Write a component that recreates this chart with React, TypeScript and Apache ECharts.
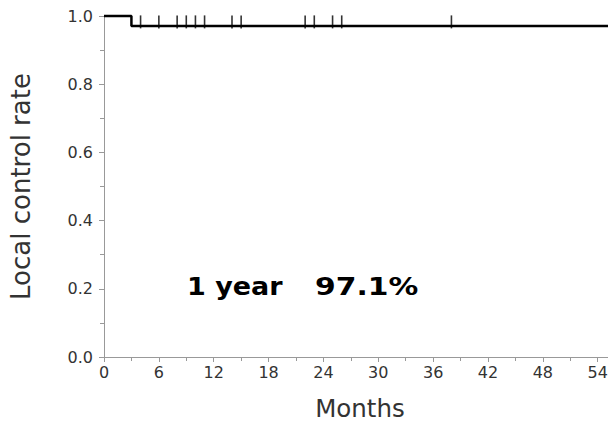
import React, { useEffect, useRef } from "react";
import * as echarts from "echarts";

const xTicks = [0, 6, 12, 18, 24, 30, 36, 42, 48, 54];
const yTicks = [0, 0.2, 0.4, 0.6, 0.8, 1.0];
const eventTimes = [3];
const survivalAfter = [0.971];
const followUpEnd = 56;
const censorTimes = [4, 6, 8, 9, 10, 11, 14, 15, 22, 23, 25, 26, 38];
const annotationLabel = "1 year";
const annotationValue = "97.1%";

function buildSteps() {
  const pts: [number, number][] = [[0, 1]];
  let s = 1;
  eventTimes.forEach((t, i) => {
    pts.push([t, s]);
    s = survivalAfter[i];
    pts.push([t, s]);
  });
  pts.push([followUpEnd, s]);
  return pts;
}

function survivalAt(t: number) {
  let s = 1;
  eventTimes.forEach((e, i) => {
    if (t >= e) s = survivalAfter[i];
  });
  return s;
}

export default function App() {
  const ref = useRef<HTMLDivElement>(null);
  useEffect(() => {
    if (!ref.current) return;
    const chart = echarts.init(ref.current, undefined, { renderer: "svg" });
    const font = "DejaVu Sans";
    chart.setOption({
      animation: false,
      backgroundColor: "#fff",
      grid: { left: 102, top: 16, right: 0, bottom: 70, containLabel: false },
      xAxis: {
        type: "value",
        min: 0,
        max: followUpEnd,
        interval: 6,
        name: "Months",
        nameLocation: "middle",
        nameGap: 39,
        nameTextStyle: { fontFamily: font, fontSize: 24.5, color: "#333" },
        axisLine: { show: true, lineStyle: { color: "#999", width: 1 } },
        axisTick: { show: true, inside: false, length: 5, lineStyle: { color: "#999" } },
        minorTick: { show: true, splitNumber: 2, length: 4, lineStyle: { color: "#999" } },
        axisLabel: {
          fontFamily: font,
          fontSize: 16,
          color: "#333",
          margin: 7,
          showMaxLabel: false,
          formatter: (v: number) => (xTicks.includes(v) ? String(v) : ""),
        },
        splitLine: { show: false },
      },
      yAxis: {
        type: "value",
        min: 0,
        max: 1,
        interval: 0.2,
        name: "Local control rate",
        nameLocation: "middle",
        nameGap: 70,
        nameTextStyle: { fontFamily: font, fontSize: 26, color: "#333" },
        axisLine: { show: true, lineStyle: { color: "#999", width: 1 } },
        axisTick: { show: true, inside: false, length: 5, lineStyle: { color: "#999" } },
        minorTick: { show: true, splitNumber: 2, length: 4, lineStyle: { color: "#999" } },
        axisLabel: {
          fontFamily: font,
          fontSize: 16,
          color: "#333",
          margin: 11,
          formatter: (v: number) =>
            yTicks.some((t) => Math.abs(t - v) < 1e-9) ? v.toFixed(1) : "",
        },
        splitLine: { show: false },
      },
      series: [
        {
          type: "line",
          data: buildSteps(),
          symbol: "none",
          clip: false,
          lineStyle: { color: "#000", width: 2.5 },
        },
        {
          type: "scatter",
          data: censorTimes.map((t) => [t, survivalAt(t)]),
          symbol: "rect",
          symbolSize: [1.6, 13],
          symbolOffset: [0, -4],
          itemStyle: { color: "#000" },
          clip: false,
        },
      ],
      graphic: [
        {
          type: "text",
          x: 187,
          y: 274,
          scaleX: 1.08,
          style: {
            text: annotationLabel,
            font: "bold 25px 'DejaVu Sans'",
            fill: "#000",
          },
        },
        {
          type: "text",
          x: 315,
          y: 274,
          scaleX: 1.19,
          style: {
            text: annotationValue,
            font: "bold 25px 'DejaVu Sans'",
            fill: "#000",
          },
        },
      ],
    });
    return () => chart.dispose();
  }, []);
  return <div ref={ref} style={{ width: 616, height: 427, margin: -8 }} />;
}
